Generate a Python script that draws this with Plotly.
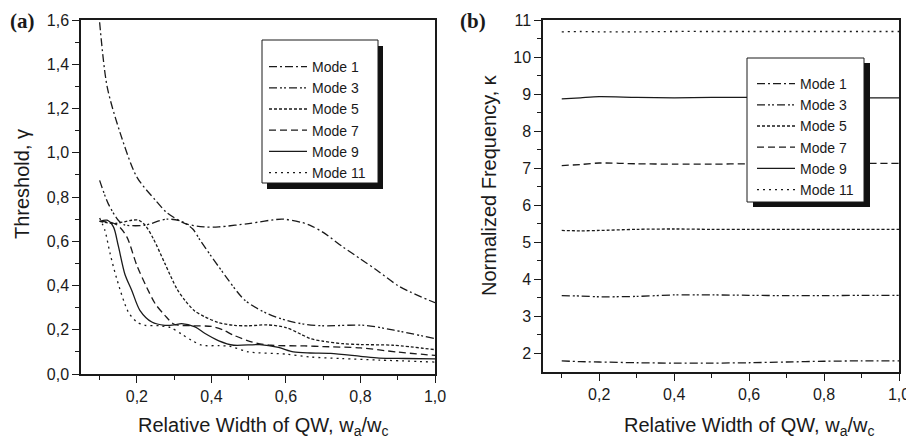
import plotly.graph_objects as go

# ---------------- data ----------------
# Panel (a): threshold vs relative width
m1_x = [0.10, 0.12, 0.155, 0.20, 0.25, 0.28, 0.33, 0.38, 0.42, 0.50, 0.59, 0.64, 0.665, 0.70, 0.753, 0.80, 0.844, 0.90, 0.933, 1.00]
m1_y = [1.59, 1.30, 1.09, 0.89, 0.785, 0.73, 0.68, 0.665, 0.665, 0.68, 0.70, 0.686, 0.672, 0.64, 0.574, 0.52, 0.469, 0.40, 0.371, 0.322]

m3_x = [0.10, 0.123, 0.15, 0.165, 0.22, 0.28, 0.32, 0.35, 0.37, 0.42, 0.49, 0.55, 0.60, 0.65, 0.70, 0.81, 0.89, 1.00]
m3_y = [0.875, 0.77, 0.695, 0.675, 0.672, 0.70, 0.69, 0.655, 0.604, 0.484, 0.333, 0.273, 0.243, 0.225, 0.218, 0.22, 0.198, 0.16]

m5_x = [0.10, 0.14, 0.186, 0.205, 0.222, 0.244, 0.275, 0.307, 0.329, 0.355, 0.383, 0.42, 0.46, 0.50, 0.55, 0.60, 0.64, 0.665, 0.70, 0.753, 0.80, 0.888, 1.00]
m5_y = [0.69, 0.68, 0.695, 0.695, 0.673, 0.612, 0.50, 0.386, 0.333, 0.285, 0.258, 0.232, 0.22, 0.218, 0.222, 0.21, 0.18, 0.16, 0.148, 0.137, 0.133, 0.13, 0.11]

m7_x = [0.10, 0.13, 0.15, 0.173, 0.20, 0.226, 0.249, 0.275, 0.30, 0.35, 0.40, 0.43, 0.46, 0.51, 0.56, 0.65, 0.70, 0.80, 0.90, 1.00]
m7_y = [0.69, 0.685, 0.67, 0.62, 0.49, 0.393, 0.318, 0.265, 0.225, 0.218, 0.215, 0.20, 0.175, 0.144, 0.13, 0.127, 0.124, 0.118, 0.099, 0.084]

m9_x = [0.10, 0.12, 0.137, 0.15, 0.168, 0.186, 0.208, 0.24, 0.275, 0.30, 0.32, 0.356, 0.383, 0.42, 0.46, 0.53, 0.58, 0.62, 0.665, 0.72, 0.80, 0.85, 0.92, 1.00]
m9_y = [0.69, 0.695, 0.665, 0.58, 0.45, 0.379, 0.288, 0.235, 0.22, 0.222, 0.228, 0.213, 0.183, 0.15, 0.13, 0.133, 0.12, 0.10, 0.095, 0.093, 0.08, 0.072, 0.07, 0.068]

m11_x = [0.10, 0.114, 0.128, 0.146, 0.177, 0.20, 0.222, 0.26, 0.29, 0.32, 0.347, 0.374, 0.42, 0.45, 0.50, 0.60, 0.665, 0.75, 0.85, 1.00]
m11_y = [0.705, 0.65, 0.545, 0.43, 0.28, 0.235, 0.22, 0.218, 0.21, 0.18, 0.152, 0.13, 0.128, 0.125, 0.10, 0.09, 0.077, 0.07, 0.063, 0.054]

# Panel (b): normalized frequency vs relative width
freq_x = [0.10, 0.15, 0.20, 0.30, 0.40, 0.50, 0.60, 0.70, 0.80, 0.90, 1.00]
f1 = [1.80, 1.78, 1.77, 1.75, 1.74, 1.74, 1.75, 1.77, 1.79, 1.80, 1.80]
f3 = [3.56, 3.55, 3.53, 3.54, 3.58, 3.58, 3.57, 3.56, 3.56, 3.57, 3.57]
f5 = [5.32, 5.31, 5.32, 5.35, 5.36, 5.35, 5.35, 5.35, 5.35, 5.35, 5.35]
f7 = [7.07, 7.10, 7.14, 7.12, 7.11, 7.11, 7.12, 7.12, 7.13, 7.13, 7.13]
f9 = [8.87, 8.90, 8.93, 8.91, 8.90, 8.91, 8.91, 8.90, 8.90, 8.90, 8.90]
f11 = [10.68, 10.69, 10.68, 10.68, 10.69, 10.69, 10.69, 10.69, 10.69, 10.69, 10.69]

mode_names = ["Mode 1", "Mode 3", "Mode 5", "Mode 7", "Mode 9", "Mode 11"]

x_tickvals = [0.2, 0.4, 0.6, 0.8, 1.0]
x_ticktext = ["0,2", "0,4", "0,6", "0,8", "1,0"]
x_minor = [0.1, 0.3, 0.5, 0.7, 0.9]
ya_tickvals = [0.0, 0.2, 0.4, 0.6, 0.8, 1.0, 1.2, 1.4, 1.6]
ya_ticktext = ["0,0", "0,2", "0,4", "0,6", "0,8", "1,0", "1,2", "1,4", "1,6"]
ya_minor = [0.1, 0.3, 0.5, 0.7, 0.9, 1.1, 1.3, 1.5]
yb_tickvals = [2, 3, 4, 5, 6, 7, 8, 9, 10, 11]
yb_ticktext = ["2", "3", "4", "5", "6", "7", "8", "9", "10", "11"]
yb_minor = [2.5, 3.5, 4.5, 5.5, 6.5, 7.5, 8.5, 9.5, 10.5]

# ---------------- styling ----------------
# The page body has an 8px default margin, so the figure is drawn 8px in
# from the window's top-left corner; size it to fill the rest exactly.
OFF = 8
W, H = 914 - OFF, 440 - OFF
INK = "#1a1a1a"
dashes = ["8px,3px,2px,3px", "8px,3px,2px,2px,2px,3px", "3px,2px", "7px,4px", "solid", "2px,4px"]
FONT = "Liberation Sans, Arial, sans-serif"

left_data = [(m1_x, m1_y), (m3_x, m3_y), (m5_x, m5_y), (m7_x, m7_y), (m9_x, m9_y), (m11_x, m11_y)]
right_data = [f1, f3, f5, f7, f9, f11]

fig = go.Figure()
for name, (xs, ys), d in zip(mode_names, left_data, dashes):
    fig.add_trace(go.Scatter(x=xs, y=ys, mode="lines", name=name,
                             line=dict(color=INK, width=1.3, dash=d, shape="spline", smoothing=0.8),
                             xaxis="x", yaxis="y", legend="legend"))
for name, ys, d in zip(mode_names, right_data, dashes):
    fig.add_trace(go.Scatter(x=freq_x, y=ys, mode="lines", name=name,
                             line=dict(color=INK, width=1.3, dash=d, shape="spline", smoothing=0.8),
                             xaxis="x2", yaxis="y2", legend="legend2"))


def px_x(p):
    """window pixel x -> paper fraction"""
    return (p - OFF) / W


def px_y(p):
    """window pixel y (from top) -> paper fraction"""
    return 1 - (p - OFF) / H


axis_common = dict(showgrid=False, zeroline=False, showline=True, linecolor=INK, linewidth=1.5,
                   mirror=True, ticks="outside", ticklen=7, tickwidth=1.2, tickcolor=INK,
                   automargin=False, tickfont=dict(family=FONT, size=16, color=INK))

legend_common = dict(xanchor="left", yanchor="top", bgcolor="rgba(0,0,0,0)", borderwidth=0,
                     font=dict(family=FONT, size=14, color=INK), tracegroupgap=0, itemwidth=38)

fig.update_layout(
    width=W, height=H, margin=dict(l=0, r=0, t=0, b=0, autoexpand=False),
    paper_bgcolor="white", plot_bgcolor="white",
    xaxis=dict(domain=[px_x(81), px_x(435)], range=[0.05, 1.0], tickvals=x_tickvals, ticktext=x_ticktext,
               minor=dict(tickvals=x_minor, ticklen=4, ticks="outside", tickcolor=INK), anchor="y", **axis_common),
    yaxis=dict(domain=[px_y(374), px_y(20)], range=[0, 1.6], tickvals=ya_tickvals, ticktext=ya_ticktext,
               minor=dict(tickvals=ya_minor, ticklen=4, ticks="outside", tickcolor=INK), anchor="x", **axis_common),
    xaxis2=dict(domain=[px_x(543), px_x(899)], range=[0.05, 1.0], tickvals=x_tickvals, ticktext=x_ticktext,
                minor=dict(tickvals=x_minor, ticklen=4, ticks="outside", tickcolor=INK), anchor="y2", **axis_common),
    yaxis2=dict(domain=[px_y(372), px_y(20)], range=[1.5, 11], tickvals=yb_tickvals, ticktext=yb_ticktext,
                minor=dict(tickvals=yb_minor, ticklen=4, ticks="outside", tickcolor=INK), anchor="x2", **axis_common),
    legend=dict(x=px_x(264), y=px_y(51), **legend_common),
    legend2=dict(x=px_x(752), y=px_y(68), **legend_common),
    showlegend=True,
)

# legend boxes with drop shadows
for (l, t, r, b, dx, dy) in [(262, 40, 378, 183, 5, 6), (747, 58, 864, 202, 6, 5)]:
    fig.add_shape(type="rect", xref="paper", yref="paper",
                  x0=px_x(l + dx), x1=px_x(r + dx), y0=px_y(b + dy), y1=px_y(t + dy),
                  fillcolor="#111111", line=dict(width=0), layer="above")
    fig.add_shape(type="rect", xref="paper", yref="paper",
                  x0=px_x(l), x1=px_x(r), y0=px_y(b), y1=px_y(t),
                  fillcolor="white", line=dict(width=1, color=INK), layer="above")

title_font = dict(family=FONT, size=20, color=INK)
annots = [
    dict(text="(a)", x=px_x(8), y=px_y(21), xanchor="left", yanchor="middle",
         font=dict(family="Liberation Serif, Times New Roman, serif", size=21, color=INK, weight="bold")),
    dict(text="(b)", x=px_x(458), y=px_y(21), xanchor="left", yanchor="middle",
         font=dict(family="Liberation Serif, Times New Roman, serif", size=21, color=INK, weight="bold")),
    dict(text="Relative Width of QW, w<sub>a</sub>/w<sub>c</sub>", x=px_x(263), y=px_y(426),
         xanchor="center", yanchor="middle", font=title_font),
    dict(text="Relative Width of QW, w<sub>a</sub>/w<sub>c</sub>", x=px_x(749), y=px_y(426),
         xanchor="center", yanchor="middle", font=title_font),
    dict(text="Threshold, γ", x=px_x(22), y=px_y(184), textangle=-90,
         xanchor="center", yanchor="middle", font=title_font),
    dict(text="Normalized Frequency, κ", x=px_x(489), y=px_y(185), textangle=-90,
         xanchor="center", yanchor="middle", font=title_font),
]
for a in annots:
    fig.add_annotation(xref="paper", yref="paper", showarrow=False, **a)

fig.write_html("out.html")
